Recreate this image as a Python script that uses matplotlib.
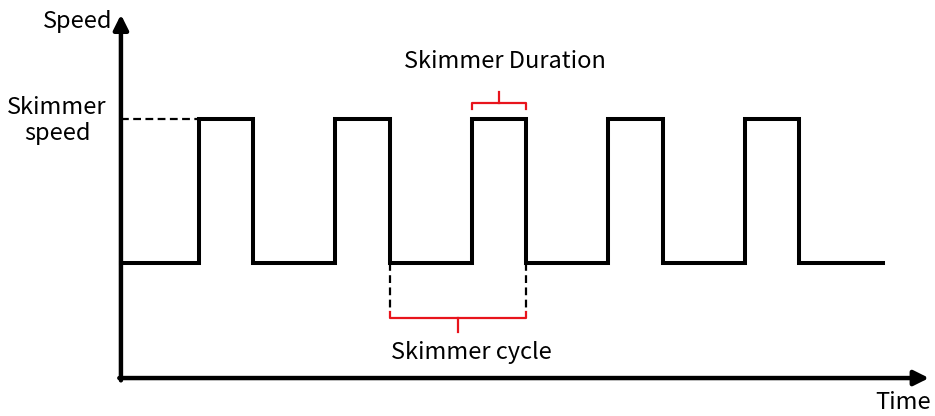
import matplotlib.pyplot as plt

plt.rcParams['font.family'] = ['Noto Sans CJK SC', 'DejaVu Sans']

# skimmer on/off schedule (time units), speed levels
rise_times = [2.85, 7.85, 12.85, 17.85, 22.85]
fall_times = [4.85, 9.85, 14.85, 19.85, 24.85]
t_end = 27.9
low_speed = 1.0
high_speed = 2.25

# build the square wave
t = [0.0]
s = [low_speed]
for r, f in zip(rise_times, fall_times):
    t += [r, r, f, f]
    s += [low_speed, high_speed, high_speed, low_speed]
t.append(t_end)
s.append(low_speed)

fig = plt.figure(figsize=(9.35, 4.16), dpi=100)
ax = fig.add_axes([0, 0, 1, 1])
ax.set_xlim(-4.43, 29.82)
ax.set_ylim(-0.33, 3.287)
ax.axis('off')

# axes with arrows
arrow = dict(arrowstyle='-|>', lw=3.2, color='black', mutation_scale=22,
             shrinkA=0, shrinkB=0)
ax.annotate('', xy=(0, 3.16), xytext=(0, -0.02), arrowprops=arrow)
ax.annotate('', xy=(29.6, 0), xytext=(-0.06, 0), arrowprops=arrow)

ax.plot(t, s, color='black', lw=2.9, solid_joinstyle='miter')

# dashed guide for skimmer speed
dash = dict(color='black', lw=1.6, dashes=(3.5, 2))
ax.plot([0, rise_times[0]], [high_speed, high_speed], **dash)

# skimmer cycle: fall to fall
c0, c1 = fall_times[1], fall_times[2]
for x in (c0, c1):
    ax.plot([x, x], [low_speed, 0.57], **dash)
red = '#e8141c'
ax.plot([c0, c0, c1, c1], [0.57, 0.52, 0.52, 0.57], color=red, lw=1.6)
ax.plot([(c0 + c1) / 2] * 2, [0.52, 0.40], color=red, lw=1.6)
ax.text(12.85, 0.22, 'Skimmer cycle', ha='center', va='center', fontsize=17)

# skimmer duration: rise to fall
d0, d1 = rise_times[2], fall_times[2]
ax.plot([d0, d0, d1, d1], [2.34, 2.39, 2.39, 2.34], color=red, lw=1.6)
ax.plot([(d0 + d1) / 2] * 2, [2.39, 2.49], color=red, lw=1.6)
ax.text(14.07, 2.75, 'Skimmer Duration', ha='center', va='center', fontsize=17)

ax.text(-0.33, 3.1, 'Speed', ha='right', va='center', fontsize=17)
ax.text(-2.34, 2.24, 'Skimmer\nspeed', ha='center', va='center', fontsize=17,
        linespacing=1.2)
ax.text(28.65, -0.215, 'Time', ha='center', va='center', fontsize=17)

fig.savefig('out.png', dpi=100)
